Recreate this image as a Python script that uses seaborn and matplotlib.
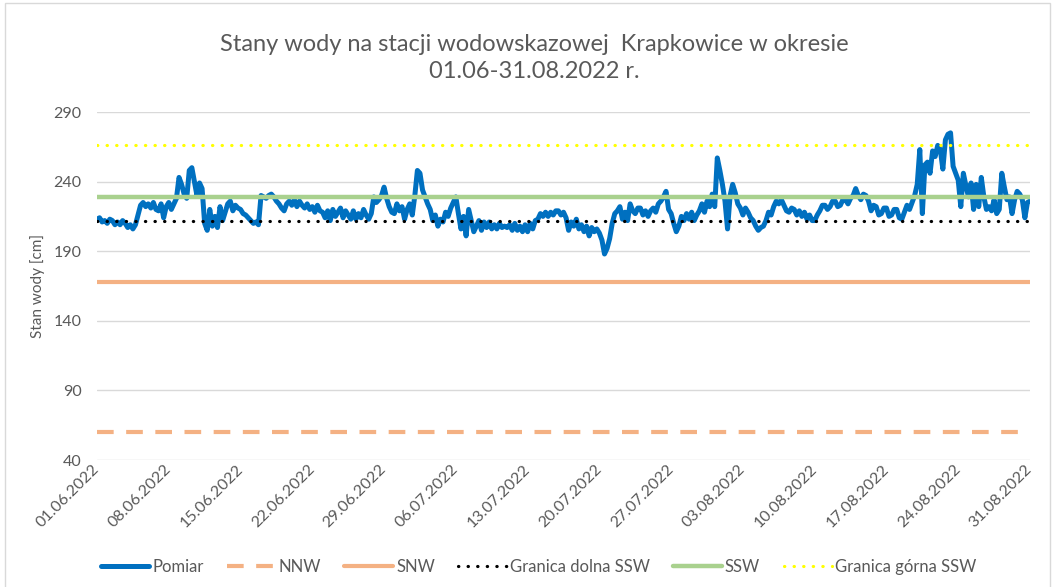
import pandas as pd
import matplotlib.pyplot as plt
import matplotlib.dates as mdates
import seaborn as sns
from matplotlib.patches import Rectangle

START = "2022-06-01"
END = "2022-08-31"

# stan wody co 6 h, 01.06.2022 00:00 - 31.08.2022 00:00
POMIAR = [
    213, 214, 211, 212, 210, 213, 212, 209, 211, 209, 212, 210, 207, 209,
    206, 209, 216, 223, 225, 222, 224, 221, 225, 220, 219, 224, 214, 222,
    225, 220, 224, 228, 243, 238, 231, 228, 248, 250, 240, 230, 239, 235,
    210, 205, 220, 208, 215, 207, 222, 212, 218, 224, 226, 219, 223, 221,
    220, 217, 216, 214, 212, 210, 211, 209, 230, 229, 228, 230, 231, 229,
    226, 224, 221, 219, 224, 226, 223, 227, 222, 226, 223, 221, 224, 220,
    222, 218, 223, 219, 218, 214, 219, 212, 220, 215, 218, 221, 214, 219,
    216, 213, 219, 213, 217, 214, 220, 216, 213, 217, 229, 225, 227, 230,
    236, 228, 222, 218, 217, 224, 219, 222, 213, 220, 224, 216, 230, 248,
    246, 234, 229, 224, 220, 212, 216, 208, 213, 211, 218, 215, 221, 225,
    229, 217, 206, 215, 201, 220, 212, 204, 208, 212, 205, 211, 207, 211,
    206, 209, 206, 210, 207, 208, 207, 209, 205, 210, 205, 208, 204, 209,
    204, 210, 206, 212, 213, 217, 215, 218, 215, 218, 216, 219, 219, 216,
    218, 214, 205, 211, 208, 213, 206, 209, 204, 208, 201, 207, 204, 206,
    203, 198, 188, 192, 199, 210, 217, 219, 222, 213, 218, 212, 224, 219,
    217, 221, 221, 216, 219, 215, 219, 221, 218, 224, 226, 229, 233, 220,
    217, 210, 204, 208, 215, 212, 217, 213, 218, 212, 216, 219, 224, 218,
    226, 222, 231, 222, 257, 248, 238, 226, 206, 230, 238, 232, 224, 221,
    216, 221, 218, 214, 212, 208, 205, 207, 208, 212, 218, 216, 222, 226,
    224, 227, 223, 219, 218, 221, 220, 216, 219, 215, 218, 213, 216, 212,
    212, 216, 219, 223, 223, 220, 222, 226, 226, 222, 223, 227, 227, 224,
    228, 230, 235, 230, 227, 231, 230, 226, 219, 223, 222, 216, 217, 221,
    221, 215, 216, 220, 220, 214, 213, 218, 223, 220, 225, 230, 238, 263,
    217, 252, 254, 246, 262, 258, 266, 263, 249, 270, 274, 275, 251, 246,
    241, 222, 246, 237, 229, 239, 220, 238, 222, 243, 229, 220, 222, 219,
    227, 217, 220, 246, 236, 227, 229, 217, 227, 233, 231, 227, 214, 225,
    226,
]

NNW = 60
SNW = 168
GRANICA_DOLNA_SSW = 212
SSW = 229
GRANICA_GORNA_SSW = 266

Y_TICKS = [40, 90, 140, 190, 240, 290]

GRAY = "#595959"

dates = pd.date_range(START, periods=len(POMIAR), freq="6h")
df = pd.DataFrame({"Data": dates, "Pomiar": POMIAR})

sns.set_theme(style="white")
plt.rcParams["font.family"] = ["Lato", "DejaVu Sans"]

fig = plt.figure(figsize=(10.54, 5.87), dpi=100)
ax = fig.add_axes([97 / 1054, 1 - 460 / 587, 933 / 1054, 348 / 587])

sns.lineplot(data=df, x="Data", y="Pomiar", ax=ax, color="#0070C0",
             lw=3.6, label="Pomiar", zorder=3)
ax.axhline(NNW, color="#F4B183", lw=3, ls=(0, (4, 3)), label="NNW", zorder=3)
ax.axhline(SNW, color="#F4B183", lw=3, label="SNW", zorder=3)
ax.axhline(GRANICA_DOLNA_SSW, color="black", lw=2.3, ls=(0, (0.1, 2.9)),
           dash_capstyle="round", label="Granica dolna SSW", zorder=4)
ax.axhline(SSW, color="#A9D18E", lw=3.2, label="SSW", zorder=4)
ax.axhline(GRANICA_GORNA_SSW, color="#FFFF00", lw=2.3, ls=(0, (0.1, 2.9)),
           dash_capstyle="round", label="Granica górna SSW", zorder=4)

ax.set_xlim(pd.Timestamp(START), pd.Timestamp(END))
ax.set_ylim(Y_TICKS[0], Y_TICKS[-1])
ax.set_yticks(Y_TICKS)
ax.set_xticks(pd.date_range(START, END, freq="7D"))
ax.xaxis.set_major_formatter(mdates.DateFormatter("%d.%m.%Y"))

ax.tick_params(axis="x", length=0, pad=5, labelsize=11.5, labelcolor=GRAY)
ax.tick_params(axis="y", length=0, pad=11, labelsize=11.5, labelcolor=GRAY)
for lbl in ax.get_xticklabels():
    lbl.set_rotation(45)
    lbl.set_ha("right")
    lbl.set_va("center")
    lbl.set_rotation_mode("anchor")

ax.yaxis.grid(True, color="#D9D9D9", lw=1)
ax.xaxis.grid(False)
ax.set_axisbelow(True)
for s in ax.spines.values():
    s.set_visible(False)

ax.set_xlabel("")
ax.set_ylabel("Stan wody [cm]", fontsize=11, color=GRAY, labelpad=6)

fig.text(0.507, 1 - 58 / 587,
         "Stany wody na stacji wodowskazowej  Krapkowice w okresie\n01.06-31.08.2022 r.",
         ha="center", va="center", fontsize=17, color=GRAY, linespacing=1.35)

handles, labels = ax.get_legend_handles_labels()
ax.get_legend().remove()
fig.legend(handles, labels, loc="center", bbox_to_anchor=(0.511, 1 - 567 / 587),
           ncol=6, frameon=False, fontsize=12, handlelength=2.9,
           columnspacing=1.4, handletextpad=0.2, labelcolor=GRAY)

fig.patches.append(Rectangle((5 / 1054, -0.01), 1045 / 1054, 1.005,
                             transform=fig.transFigure, fill=False,
                             edgecolor="#D9D9D9", lw=1))

fig.savefig("out.png", dpi=100)
